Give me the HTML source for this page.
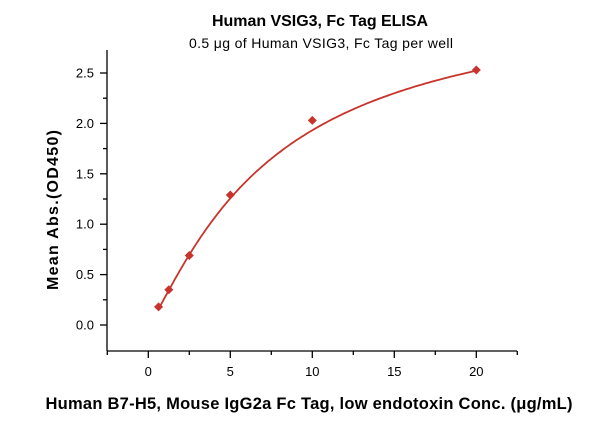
<!DOCTYPE html>
<html><head><meta charset="utf-8"><style>
body{margin:0;background:#fff}
svg{display:block;font-family:"Liberation Sans",Arial,sans-serif}
</style></head><body>
<svg width="600" height="421" viewBox="0 0 600 421">
<text x="320" y="26" text-anchor="middle" font-weight="bold" font-size="16" textLength="216">Human VSIG3, Fc Tag ELISA</text>
<text x="321" y="48" text-anchor="middle" font-size="14" textLength="264">0.5 μg of Human VSIG3, Fc Tag per well</text>
<g stroke="#000" stroke-width="1.3" fill="none">
<line x1="107" y1="50" x2="107" y2="351"/>
<line x1="107" y1="351" x2="517" y2="351"/>
<g id="yt"></g><g id="xt"></g>
</g>
<g font-size="13" id="labels"></g>
<path id="curve" stroke="#c8342c" stroke-width="1.8" fill="none"/>
<g id="pts" fill="#c8342c"></g>
<text transform="translate(58,210) rotate(-90)" text-anchor="middle" font-weight="bold" font-size="16" textLength="160">Mean Abs.(OD450)</text>
<text x="309" y="409" text-anchor="middle" font-weight="bold" font-size="16.5" textLength="527">Human B7-H5, Mouse IgG2a Fc Tag, low endotoxin Conc. (μg/mL)</text>
</svg>
<script>
const X=x=>148.3+x*16.4, Y=y=>325-y*100.8, ns="http://www.w3.org/2000/svg";
function el(p,t,a,txt){const e=document.createElementNS(ns,t);for(const k in a)e.setAttribute(k,a[k]);if(txt)e.textContent=txt;document.getElementById(p).appendChild(e);}
for(let i=0;i<=10;i++){const v=i*0.25,y=Y(v);el("yt","line",{x1:107,x2:i%2?103:100,y1:y,y2:y});if(i%2==0)el("labels","text",{x:94,y:y+4.5,"text-anchor":"end"},v.toFixed(1));}
for(let i=-1;i<=9;i++){const v=i*2.5,x=X(v);el("xt","line",{x1:x,x2:x,y1:351,y2:i%2?355:358});if(i>=0&&i%2==0)el("labels","text",{x:x,y:376,"text-anchor":"middle"},String(v));}
let d="";for(let i=0;i<=120;i++){const x=0.625+(20-0.625)*i/120,f=3.3*Math.pow(x,1.2)/(Math.pow(7.5,1.2)+Math.pow(x,1.2));d+=(i?"L":"M")+X(x).toFixed(1)+","+Y(f).toFixed(1);}
document.getElementById("curve").setAttribute("d",d);
[[0.625,0.18],[1.25,0.35],[2.5,0.69],[5,1.29],[10,2.03],[20,2.53]].forEach(([a,b])=>{const x=X(a),y=Y(b);el("pts","polygon",{points:`${x},${y-4.5} ${x+4.5},${y} ${x},${y+4.5} ${x-4.5},${y}`});});
</script>
</body></html>
